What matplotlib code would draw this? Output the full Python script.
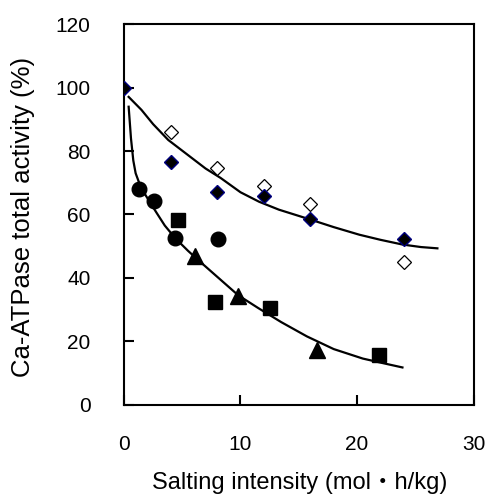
import matplotlib
matplotlib.use("Agg")
import matplotlib.pyplot as plt

plt.rcParams['font.family'] = ['Liberation Sans', 'Noto Sans CJK JP', 'DejaVu Sans']

# open diamonds
open_x = [4, 8, 12, 16, 24]
open_y = [85.9, 74.5, 69.0, 63.3, 45.1]

# filled diamonds
dia_x = [0, 4, 8, 12, 16, 24]
dia_y = [100, 76.6, 67.2, 65.9, 58.6, 52.1]

# circles, squares, triangles
circ_x = [1.3, 2.6, 4.4, 8.1]
circ_y = [68.0, 64.2, 52.6, 52.3]
sq_x = [4.6, 7.8, 12.5, 21.9]
sq_y = [58.4, 32.3, 30.5, 15.5]
tri_x = [6.1, 9.8, 16.6]
tri_y = [47.0, 34.4, 17.1]

# trend lines
upper_x = [0.4, 1.5, 2.5, 3.8, 5.4, 7.0, 8.3, 10.0, 11.6, 13.3, 15.9, 18.0, 20.2, 22.0, 23.9, 25.5, 26.9]
upper_y = [97.1, 93.0, 88.5, 83.5, 79.0, 74.5, 71.5, 67.0, 64.0, 61.5, 58.5, 56.0, 53.6, 52.0, 50.5, 49.7, 49.3]
lower_x = [0.4, 0.6, 0.8, 1.0, 1.3, 1.7, 2.2, 2.8, 3.5, 4.4, 5.5, 6.4, 8.1, 9.8, 11.5, 13.5, 15.7, 18.0, 20.5, 22.3, 23.9]
lower_y = [94, 84, 77, 73, 70, 67, 64, 60.5, 56.5, 52.5, 48.5, 45.5, 40, 34.5, 30.5, 26, 21.5, 17.5, 14.5, 13, 11.7]

xticks = [0, 10, 20, 30]
yticks = [0, 20, 40, 60, 80, 100, 120]

fig = plt.figure(figsize=(4.87, 4.95), dpi=100)
ax = fig.add_axes([0.2546, 0.1828, 0.7177, 0.768])

ax.plot(upper_x, upper_y, color='black', lw=1.6, zorder=2)
ax.plot(lower_x, lower_y, color='black', lw=1.6, zorder=2)

ax.plot(open_x, open_y, ls='none', marker='D', ms=7.5, mfc='white', mec='black', mew=0.9, zorder=3)
ax.plot(dia_x, dia_y, ls='none', marker='D', ms=7.5, mfc='black', mec='#000080', mew=1.0, zorder=3)
ax.plot(circ_x, circ_y, ls='none', marker='o', ms=10.5, color='black', zorder=3)
ax.plot(sq_x, sq_y, ls='none', marker='s', ms=9.5, color='black', zorder=3)
ax.plot(tri_x, tri_y, ls='none', marker='^', ms=11, color='black', zorder=3)

ax.set_xlim(0, 30)
ax.set_ylim(0, 120)
ax.set_xticks(xticks)
ax.set_yticks(yticks)
ax.tick_params(direction='in', length=7, width=1.5, labelsize=15)
ax.tick_params(axis='x', pad=22)
ax.tick_params(axis='y', pad=24)
for s in ax.spines.values():
    s.set_linewidth(1.5)

fig.text(300 / 487, 1 - 483 / 495, "Salting intensity (mol・h/kg)", ha='center', va='center', fontsize=17)
fig.text(23 / 487, 1 - 217 / 495, "Ca-ATPase total activity (%)", ha='center', va='center',
         rotation=90, fontsize=18.5)

fig.savefig("out.png", dpi=100)
